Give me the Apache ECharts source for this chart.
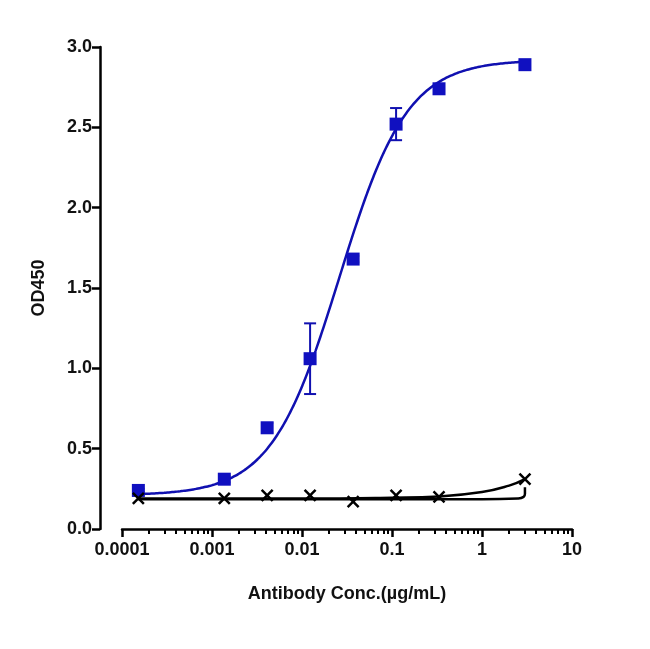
<!DOCTYPE html>
<html><head><meta charset="utf-8">
<script src="https://cdn.jsdelivr.net/npm/echarts@6/dist/echarts.min.js"></script>
<style>body{margin:0}#c{width:650px;height:649px}</style></head>
<body><div id="c"></div>
<script>
// 3-fold dilution series (µg/mL)
const conc = [0.000152, 0.00137, 0.0041, 0.0123, 0.037, 0.111, 0.333, 3];
const blueOD = [0.24, 0.31, 0.63, 1.06, 1.68, 2.52, 2.74, 2.89];
const blueErr = [0.01, 0.02, 0.03, 0.22, 0.02, 0.10, 0.02, 0.01];
const blackOD = [0.19, 0.19, 0.21, 0.21, 0.17, 0.21, 0.20, 0.31];
// 4PL fit parameters for blue curve
const fitBottom = 0.21, fitTop = 2.92, fitEC50 = 0.026, fitHill = 1.15;
// black curves
const blackFitX = [0.000152, 0.001, 0.01, 0.1, 0.333, 1, 2, 3];
const blackFitY = [0.19, 0.19, 0.19, 0.195, 0.203, 0.23, 0.27, 0.31];
const blackFlatX = [0.000152, 0.01, 0.1, 1, 2.5, 2.9, 3, 3];
const blackFlatY = [0.185, 0.185, 0.185, 0.185, 0.19, 0.2, 0.22, 0.26];

const fit = [];
for (let i = 0; i <= 120; i++) {
  const x = Math.pow(10, Math.log10(0.000152) + i * (Math.log10(3) - Math.log10(0.000152)) / 120);
  const r = Math.pow(x / fitEC50, fitHill);
  fit.push([x, fitBottom + (fitTop - fitBottom) * r / (1 + r)]);
}
const errData = conc.map((x, i) => [x, blueOD[i] - blueErr[i], blueOD[i] + blueErr[i]]);

const font = { fontSize: 18, fontWeight: 'bold', color: '#111', fontFamily: 'Liberation Sans' };
const chart = echarts.init(document.getElementById('c'));
chart.setOption({
  animation: false,
  grid: { left: 122, right: 78, top: 47, bottom: 120 },
  xAxis: {
    type: 'log', min: 0.0001, max: 10, logBase: 10,
    name: 'Antibody Conc.(µg/mL)', nameLocation: 'middle', nameGap: 56,
    nameTextStyle: font,
    axisLine: { lineStyle: { color: '#000', width: 2.5 } },
    axisTick: { length: 8, lineStyle: { width: 2.5 } },
    minorTick: { show: true, splitNumber: 9, length: 5, lineStyle: { color: '#000', width: 2 } },
    axisLabel: Object.assign({ margin: 12, formatter: v => String(+v.toPrecision(1)) }, font),
    splitLine: { show: false }
  },
  yAxis: {
    type: 'value', min: 0, max: 3, interval: 0.5, offset: 22,
    name: 'OD450', nameLocation: 'middle', nameGap: 52,
    nameTextStyle: font,
    axisLine: { show: true, lineStyle: { color: '#000', width: 2.5 } },
    axisTick: { show: true, length: 8, lineStyle: { width: 2.5 } },
    axisLabel: Object.assign({ formatter: v => v.toFixed(1) }, font),
    splitLine: { show: false }
  },
  series: [
    { type: 'line', data: fit, showSymbol: false, smooth: true, lineStyle: { color: '#1010b0', width: 2.5 }, z: 2 },
    { type: 'line', data: blackFitX.map((x, i) => [x, blackFitY[i]]), showSymbol: false, smooth: true,
      lineStyle: { color: '#000', width: 2.5 }, z: 2 },
    { type: 'line', data: blackFlatX.map((x, i) => [x, blackFlatY[i]]), showSymbol: false, smooth: true,
      lineStyle: { color: '#000', width: 2.5 }, z: 2 },
    { type: 'custom', data: errData, z: 3,
      renderItem: (p, api) => {
        const lo = api.coord([api.value(0), api.value(1)]);
        const hi = api.coord([api.value(0), api.value(2)]);
        const w = 6;
        return { type: 'group', children: [
          { type: 'line', shape: { x1: lo[0], y1: lo[1], x2: hi[0], y2: hi[1] }, style: { stroke: '#1010b0', lineWidth: 2 } },
          { type: 'line', shape: { x1: lo[0] - w, y1: lo[1], x2: lo[0] + w, y2: lo[1] }, style: { stroke: '#1010b0', lineWidth: 2 } },
          { type: 'line', shape: { x1: hi[0] - w, y1: hi[1], x2: hi[0] + w, y2: hi[1] }, style: { stroke: '#1010b0', lineWidth: 2 } }
        ] };
      } },
    { type: 'scatter', data: conc.map((x, i) => [x, blueOD[i]]), symbol: 'rect', symbolSize: 13,
      itemStyle: { color: '#1010c0', opacity: 1 }, z: 4 },
    { type: 'scatter', data: conc.map((x, i) => [x, blackOD[i]]),
      symbol: 'path://M0,0L10,10M10,0L0,10', symbolSize: 11,
      itemStyle: { color: 'none', borderColor: '#000', borderWidth: 2.5, opacity: 1 }, z: 4 }
  ]
});
</script></body></html>
